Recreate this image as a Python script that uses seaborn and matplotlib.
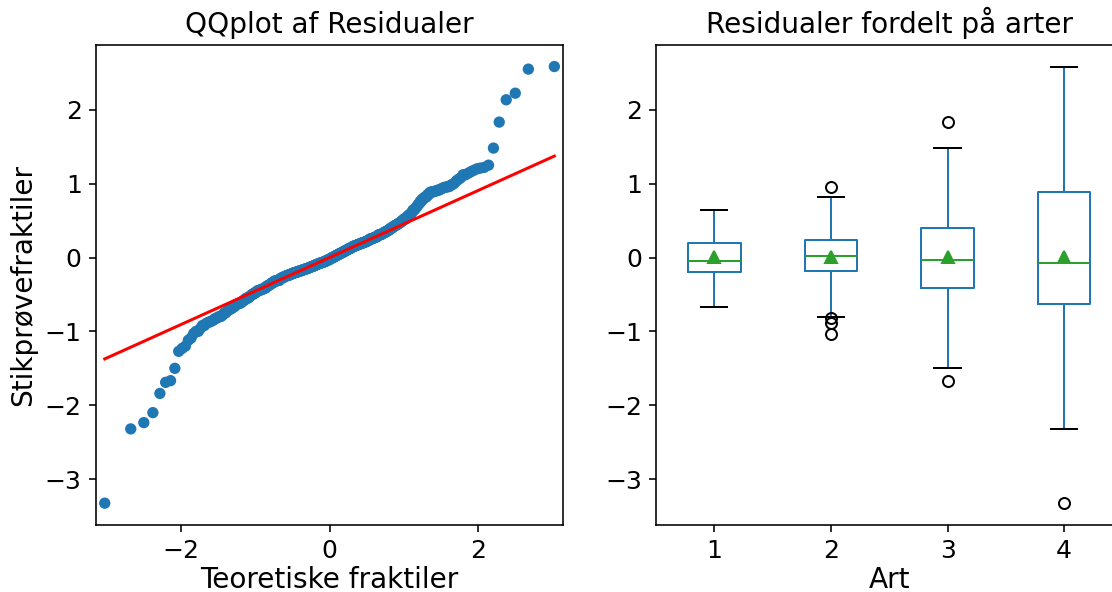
import numpy as np
import pandas as pd
import matplotlib
matplotlib.use("Agg")
import matplotlib.pyplot as plt
import seaborn as sns
from statistics import NormalDist

# ==================================================
# Data: residuals per species (Art)
# ==================================================

art_labels = ["1", "2", "3", "4"]

resid_art1 = [
    -0.676, -0.55, -0.48, -0.44, -0.41, -0.38, -0.36, -0.34, -0.32, -0.315,
    -0.31, -0.305, -0.28, -0.27, -0.26, -0.25, -0.245, -0.24, -0.23, -0.225,
    -0.22, -0.21, -0.205, -0.20, -0.198, -0.192, -0.185, -0.18, -0.17, -0.165,
    -0.16, -0.155, -0.15, -0.14, -0.135, -0.13, -0.12, -0.115, -0.11, -0.10,
    -0.095, -0.09, -0.085, -0.08, -0.075, -0.07, -0.065, -0.06, -0.055, -0.05,
    -0.042, -0.03, -0.02, -0.01, 0.0, 0.01, 0.02, 0.03, 0.04, 0.05,
    0.06, 0.07, 0.08, 0.09, 0.10, 0.11, 0.12, 0.13, 0.14, 0.15,
    0.16, 0.17, 0.175, 0.18, 0.19, 0.195, 0.20, 0.21, 0.22, 0.23,
    0.24, 0.25, 0.26, 0.27, 0.28, 0.305, 0.31, 0.33, 0.35, 0.37,
    0.39, 0.41, 0.43, 0.45, 0.47, 0.50, 0.53, 0.56, 0.60, 0.649,
]

resid_art2 = [
    -1.03, -0.88, -0.825, -0.80, -0.70, -0.62, -0.55, -0.50, -0.45, -0.42,
    -0.38, -0.345, -0.32, -0.31, -0.285, -0.27, -0.26, -0.25, -0.24, -0.23,
    -0.22, -0.21, -0.20, -0.195, -0.19, -0.18, -0.175, -0.17, -0.165, -0.16,
    -0.15, -0.145, -0.14, -0.13, -0.125, -0.12, -0.11, -0.10, -0.09, -0.08,
    -0.07, -0.06, -0.05, -0.04, -0.03, -0.02, -0.01, 0.0, 0.01, 0.02,
    0.034, 0.04, 0.05, 0.06, 0.07, 0.08, 0.09, 0.10, 0.11, 0.12,
    0.13, 0.14, 0.15, 0.155, 0.16, 0.17, 0.175, 0.18, 0.19, 0.195,
    0.20, 0.21, 0.215, 0.22, 0.23, 0.25, 0.255, 0.26, 0.27, 0.275,
    0.28, 0.29, 0.305, 0.31, 0.32, 0.33, 0.34, 0.35, 0.36, 0.37,
    0.39, 0.41, 0.42, 0.44, 0.46, 0.49, 0.52, 0.58, 0.82, 0.96,
]

resid_art3 = [
    -1.667, -1.50, -1.23, -1.12, -1.00, -0.92, -0.86, -0.80, -0.75, -0.70,
    -0.67, -0.645, -0.62, -0.595, -0.57, -0.54, -0.52, -0.50, -0.48, -0.465,
    -0.45, -0.44, -0.435, -0.43, -0.425, -0.41, -0.39, -0.37, -0.35, -0.335,
    -0.32, -0.31, -0.285, -0.27, -0.255, -0.24, -0.225, -0.21, -0.195, -0.18,
    -0.165, -0.15, -0.135, -0.12, -0.105, -0.09, -0.075, -0.065, -0.05, -0.04,
    -0.032, -0.015, 0.0, 0.015, 0.03, 0.05, 0.065, 0.08, 0.10, 0.115,
    0.13, 0.15, 0.165, 0.18, 0.20, 0.215, 0.23, 0.25, 0.265, 0.28,
    0.305, 0.32, 0.34, 0.365, 0.39, 0.43, 0.45, 0.47, 0.50, 0.52,
    0.55, 0.58, 0.61, 0.64, 0.67, 0.70, 0.73, 0.76, 0.79, 0.81,
    0.85, 0.89, 0.91, 0.95, 0.99, 1.06, 1.12, 1.21, 1.481, 1.833,
]

resid_art4 = [
    -3.325, -2.32, -2.235, -2.10, -1.84, -1.69, -1.27, -1.20, -1.09, -1.00,
    -0.96, -0.92, -0.89, -0.87, -0.85, -0.83, -0.81, -0.79, -0.77, -0.75,
    -0.73, -0.71, -0.69, -0.66, -0.63, -0.626, -0.615, -0.60, -0.585, -0.57,
    -0.55, -0.53, -0.51, -0.49, -0.47, -0.45, -0.43, -0.41, -0.39, -0.37,
    -0.345, -0.32, -0.31, -0.275, -0.24, -0.21, -0.18, -0.15, -0.115, -0.08,
    -0.066, -0.03, 0.0, 0.03, 0.06, 0.09, 0.12, 0.16, 0.20, 0.25,
    0.31, 0.35, 0.40, 0.44, 0.48, 0.52, 0.57, 0.64, 0.68, 0.72,
    0.76, 0.79, 0.82, 0.85, 0.88, 0.885, 0.89, 0.895, 0.90, 0.91,
    0.92, 0.93, 0.94, 0.95, 0.96, 0.98, 1.01, 1.04, 1.08, 1.12,
    1.14, 1.16, 1.18, 1.20, 1.22, 1.25, 2.135, 2.224, 2.55, 2.585,
]

groups = [resid_art1, resid_art2, resid_art3, resid_art4]

df = pd.DataFrame({
    "Art": [lab for lab, vals in zip(art_labels, groups) for _ in vals],
    "Residual": [v for vals in groups for v in vals],
})

# ==================================================
# QQ-plot quantities (plotting positions (i - 0.5) / n)
# ==================================================

sample = np.sort(df["Residual"].to_numpy())
n = len(sample)
nd = NormalDist()
theo = np.array([nd.inv_cdf((i - 0.5) / n) for i in range(1, n + 1)])

# reference line through the quartiles
q25, q75 = np.percentile(sample, [25, 75])
tq25, tq75 = nd.inv_cdf(0.25), nd.inv_cdf(0.75)
slope = (q75 - q25) / (tq75 - tq25)
intercept = q25 - slope * tq25
line_x = [theo[0], theo[-1]]
line_y = [intercept + slope * x for x in line_x]

# ==================================================
# Plot
# ==================================================

DPI = 144
fig = plt.figure(figsize=(1112 / DPI, 592 / DPI), dpi=DPI)
ax1 = fig.add_axes([0.0861, 0.1132, 0.4205, 0.8113])
ax2 = fig.add_axes([0.5899, 0.1132, 0.4196, 0.8113])

sns.scatterplot(x=theo, y=sample, ax=ax1, color="#1f77b4", s=32,
                linewidth=0, edgecolor="none")
sns.lineplot(x=line_x, y=line_y, ax=ax1, color="red", linewidth=1.5)
ax1.margins(x=0.02)
ax1.set_title("QQplot af Residualer", fontsize=14)
ax1.set_xlabel("Teoretiske fraktiler", fontsize=14, labelpad=1.5)
ax1.set_ylabel("Stikprøvefraktiler", fontsize=14)

sns.boxplot(
    data=df, x="Art", y="Residual", order=art_labels, ax=ax2,
    width=0.45, fill=False, color="#1f77b4", linewidth=1.0,
    showmeans=True,
    meanprops=dict(marker="^", markerfacecolor="#2ca02c",
                   markeredgecolor="#2ca02c", markersize=6),
    medianprops=dict(color="#2ca02c"),
    whiskerprops=dict(color="#1f77b4"),
    capprops=dict(color="black"),
    flierprops=dict(marker="o", markerfacecolor="none",
                    markeredgecolor="black", markersize=5.5,
                    markeredgewidth=1.0),
)
ax2.set_title("Residualer fordelt på arter", fontsize=14)
ax2.set_xlabel("Art", fontsize=14, labelpad=1.5)
ax2.set_ylabel("")

for ax in (ax1, ax2):
    ax.tick_params(labelsize=12.5)

fig.savefig("out.png", dpi=DPI)
